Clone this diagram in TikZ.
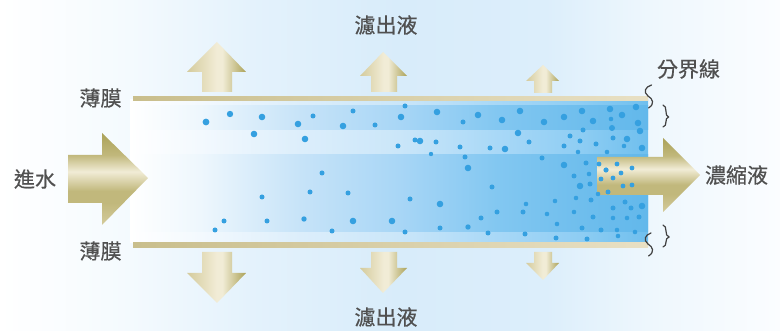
\documentclass[tikz,border=0pt]{standalone}
\usepackage{fontspec}
\newfontfamily\cjk[FakeBold=0.5]{Noto Sans CJK TC}
% palette for the water column
\definecolor{bgA}{HTML}{FFFFFF}\definecolor{bgB}{HTML}{F4FAFE}\definecolor{bgC}{HTML}{E4F2FC}
\definecolor{bgD}{HTML}{D8ECFA}\definecolor{bgE}{HTML}{DCEEFB}\definecolor{bgF}{HTML}{EEF7FD}\definecolor{bgG}{HTML}{FBFDFF}
\definecolor{lightA}{HTML}{F3F9FE}\definecolor{lightB}{HTML}{DCEEFB}\definecolor{lightC}{HTML}{CAE6F9}
\definecolor{lightD}{HTML}{A8D8F7}\definecolor{lightE}{HTML}{8ECDF3}\definecolor{lightF}{HTML}{6FBFEE}
\definecolor{deepA}{HTML}{EEF7FD}\definecolor{deepB}{HTML}{C6E3F8}\definecolor{deepC}{HTML}{A8D6F6}
\definecolor{deepD}{HTML}{82C7F1}\definecolor{deepE}{HTML}{6FBEED}\definecolor{deepF}{HTML}{62B8EB}
% palette for the brass-coloured arrows
\definecolor{olive}{HTML}{ABA258}\definecolor{oliveB}{HTML}{C1B87C}\definecolor{creamy}{HTML}{F1ECD6}
\definecolor{tanny}{HTML}{D4CB9C}\definecolor{edgeL}{HTML}{C9BE8C}\definecolor{edgeR}{HTML}{E8E0C4}
\definecolor{droplet}{HTML}{35A0E0}\definecolor{ink}{HTML}{505050}
% a shaded path's bounding box spans 25bp to 75bp of the shading
\pgfdeclarehorizontalshading{backdrop}{100bp}{color(0bp)=(bgA);color(25bp)=(bgA);color(33.35bp)=(bgB);color(41bp)=(bgC);color(50.5bp)=(bgD);color(60bp)=(bgE);color(66.5bp)=(bgF);color(75bp)=(bgG);color(100bp)=(bgG)}
\pgfdeclarehorizontalshading{lightwater}{100bp}{color(0bp)=(white);color(25bp)=(white);color(31.75bp)=(lightA);color(41.5bp)=(lightB);color(51bp)=(lightC);color(60.5bp)=(lightD);color(68.5bp)=(lightE);color(75bp)=(lightF);color(100bp)=(lightF)}
\pgfdeclarehorizontalshading{deepwater}{100bp}{color(0bp)=(white);color(25bp)=(white);color(31.75bp)=(deepA);color(41.5bp)=(deepB);color(51bp)=(deepC);color(60.5bp)=(deepD);color(68.5bp)=(deepE);color(75bp)=(deepF);color(100bp)=(deepF)}
\pgfdeclarehorizontalshading{brassv}{100bp}{color(0bp)=(tanny);color(25bp)=(tanny);color(50bp)=(creamy);color(55bp)=(creamy);color(75bp)=(olive);color(100bp)=(olive)}
\pgfdeclareverticalshading{brassh}{100bp}{color(0bp)=(tanny);color(25bp)=(tanny);color(37bp)=(oliveB);color(43.5bp)=(oliveB);color(54bp)=(creamy);color(63bp)=(oliveB);color(75bp)=(olive);color(100bp)=(olive)}
\tikzset{
  backfill/.style={shading=backdrop},
  lightband/.style={shading=lightwater},
  deepband/.style={shading=deepwater},
  brassup/.style={shading=brassv},
  brassflow/.style={shading=brassh},
  membrane/.style={left color=edgeL,right color=edgeR},
  label/.style={font=\cjk\fontsize{21}{21}\selectfont,text=ink,inner sep=0pt},
  mark line/.style={draw=ink!80!black,line width=1.2pt,line cap=round},
  dot/.style={fill=droplet,draw=none}
}
\begin{document}
\begin{tikzpicture}[x=1pt,y=-1pt]
\useasboundingbox (0,0) rectangle (780,331);
\shade[backfill] (0,0) rectangle (780,331);
% water column
\shade[lightband] (130,100) rectangle (648,243);
\shade[deepband] (130,106) rectangle (648,130);
\shade[deepband] (130,155) rectangle (648,232);
% membranes
\shade[membrane] (133,96.5) rectangle (648,100.5);
\shade[membrane] (133,243) rectangle (648,247.5);
% permeate arrows, upper side
\shade[brassup] (217,42)--(246,72)--(232,72)--(232,92)--(202,92)--(202,72)--(187,72)--cycle;
\shade[brassup] (383,52)--(407,76)--(397,76)--(397,92)--(371,92)--(371,76)--(360,76)--cycle;
\shade[brassup] (543,65)--(559,81)--(552,81)--(552,93)--(534,93)--(534,81)--(526,81)--cycle;
% permeate arrows, lower side
\shade[brassup] (217,303)--(246,273)--(232,273)--(232,252)--(202,252)--(202,273)--(187,273)--cycle;
\shade[brassup] (383,293)--(407,268)--(397,268)--(397,252)--(371,252)--(371,268)--(360,268)--cycle;
\shade[brassup] (543,280)--(559,263)--(552,263)--(552,252)--(534,252)--(534,263)--(526,263)--cycle;
% feed and concentrate arrows
\shade[brassflow] (148,178)--(102,225)--(102,203)--(68,203)--(68,155)--(102,155)--(102,133)--cycle;
\shade[brassflow] (700,175)--(663,212)--(663,195)--(597,195)--(597,157)--(663,157)--(663,138)--cycle;
% droplets: x/y/radius
\foreach \x/\y/\r in {206/122/3.4,230/114/3.2,262/117/3.3,254/134/3.3,298/124/3.3,313/116/2.5,305/139/3.3,353/111/2.5,343/126/3.3,375/125/2.5,405/106/2.5,401/117/3.3,398/146/2.5,415/140/2.5,420/141/3.3,431/154/2.2,322/173/2.5,310/192/2.5,262/197/2.5,348/193/2.5,410/199/2.5,224/221/2.5,215/230/2.5,267/221/2.5,304/219/2.7,353/221/3.3,392/221/3.3,332/231/2.5,405/232/2.5,
437/112/3.3,463/122/2.5,478/115/3.3,502/120/3.3,520/111/3.3,544/122/3.3,564/117/3.3,582/111/3.3,593/121/3.3,610/109/3.3,622/115/3.3,636/107/3.3,611/119/2.3,612/128/3,638/123/3.3,640/131/3.3,518/133/3.3,436/142/2.5,460/147/2.5,490/148/2.5,505/149/3.3,529/142/2.5,570/136/2.5,583/130/2.5,580/141/2.5,564/146/2.5,596/144/2.5,613/138/2.5,627/139/3.3,624/146/2.3,642/148/3.3,578/152/2.3,607/152/2.3,465/157/2.5,468/168/3.3,542/158/2.5,564/165/3.3,586/163/2.5,574/176/2.5,589/174/2.3,580/186/3.3,590/184/2.5,492/187/2.5,440/204/3.3,526/204/2.3,555/201/2.3,576/198/2.3,591/200/2.5,598/194/2.3,608/192/2.5,625/202/2.5,642/206/3.3,613/208/2.5,631/208/2.5,497/212/2.5,523/212/2.5,547/214/2.3,574/212/2.3,481/218/2.5,593/217/2.5,613/218/2.3,627/218/2.3,639/217/2.5,557/224/2.3,440/228/2.5,468/227/2.7,582/228/2.5,601/230/2.5,617/230/2.3,635/232/2.3,488/233/2.5,525/234/2.5,556/238/2.5,587/239/2.5,618/236/2.3,
599/164/2.4,617/164/2.4,632/168/2.4,606/170/2.6,621/173/2.4,601/179/2.4,613/178/2.4,623/186/2.4,632/185/2.4}
  \fill[dot] (\x,\y) circle[radius=\r];
% boundary-layer marks
\draw[mark line] (651.5,85) .. controls (645,87) and (643,92) .. (648,96) .. controls (653,99) and (655,104) .. (648.5,108);
\draw[mark line] (651,233) .. controls (645,235) and (643,240) .. (648,244) .. controls (653,247) and (655,252) .. (648.5,256);
\draw[mark line] (663,105) .. controls (668,106) and (664,116) .. (668.5,117) .. controls (664,118) and (668,126) .. (663,127);
\draw[mark line] (663,225) .. controls (668,226) and (664,236) .. (669,237) .. controls (664,238) and (668,246) .. (663,247);
% labels
\node[label] (filtrateTop) at (386,25) {濾出液};
\node[label] (filtrateBottom) at (386,317) {濾出液};
\node[label] (membraneTop) at (100.5,98) {薄膜};
\node[label] (membraneBottom) at (100.5,251) {薄膜};
\node[label] (feed) at (35,179) {進水};
\node[label] (boundary) at (688.5,69) {分界線};
\node[label] (concentrate) at (736.5,175) {濃縮液};
\end{tikzpicture}
\end{document}
